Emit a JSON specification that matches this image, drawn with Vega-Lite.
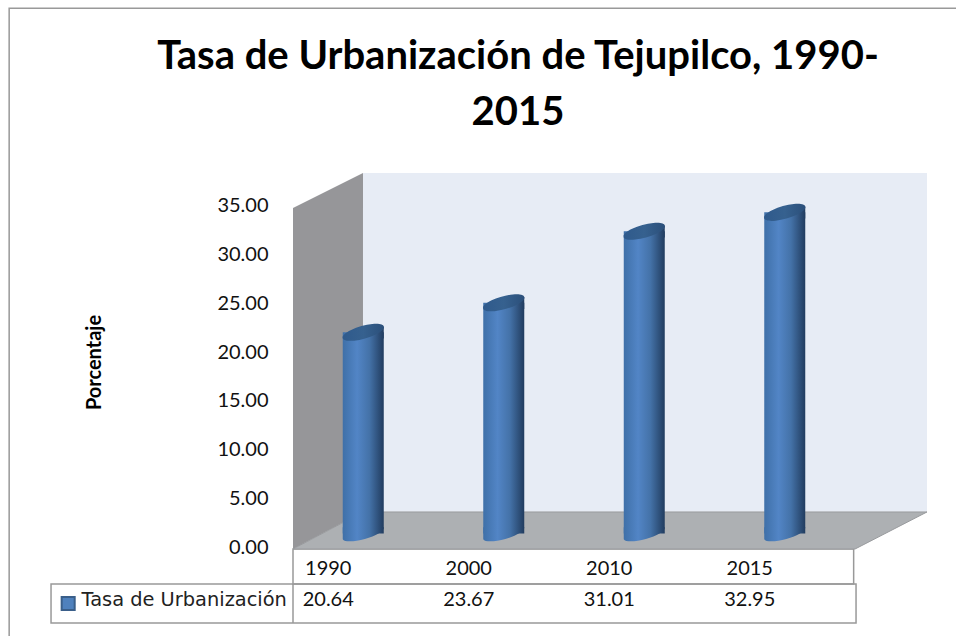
{
"$schema":"https://vega.github.io/schema/vega-lite/v6.json",
"width":634,"height":376,
"autosize":{"type":"none"},
"padding":{"left":293,"top":173,"right":29,"bottom":87},
"background":"#ffffff",
"view":{"stroke":null},
"title":{"text":["Tasa de Urbanización de Tejupilco, 1990-","2015"],"font":"Lato","fontSize":40,"fontWeight":"bold","color":"#000000","anchor":"middle","frame":"group","dx":-92,"offset":-126,"lineHeight":56},
"datasets":{
"rows":[
{"year":"1990","value":20.64},
{"year":"2000","value":23.67},
{"year":"2010","value":31.01},
{"year":"2015","value":32.95}
],
"floor":[
{"x":0,"top":0,"bottom":0},
{"x":0.498,"top":3.8,"bottom":0},
{"x":4.0,"top":3.8,"bottom":0},
{"x":4.512,"top":3.8,"bottom":3.8}
],
"side":[
{"x":0,"top":35,"bottom":0},
{"x":0.498,"top":38.59,"bottom":3.8}
],
"back":[
{"x":0.498,"top":38.59,"bottom":3.8},
{"x":4.512,"top":38.59,"bottom":3.8}
],
"grid":[
{"x":-2.02,"x2":4.9,"y":-10,"y2":55.5},
{"x":-1.722,"x2":4.007,"y":-7.6,"y2":-3.59},
{"x":0,"x2":3.99,"y":-3.59,"y2":0},
{"x":0,"x2":0,"y":-7.6,"y2":-3.59}
]
},
"resolve":{"scale":{"x":"independent","y":"independent"}},
"layer":[
{"data":{"name":"grid"},"mark":{"type":"rect","fill":"transparent","stroke":"#999999","strokeWidth":1.5,"clip":false},
"encoding":{"x":{"field":"x","type":"quantitative","scale":{"domain":[0,4.512],"nice":false,"zero":false},"axis":null},"x2":{"field":"x2"},
"y":{"field":"y","type":"quantitative","scale":{"domain":[0,38.59],"nice":false,"zero":false},"axis":null},"y2":{"field":"y2"}}},
{"data":{"name":"back"},"mark":{"type":"area","fill":"#e7ecf5"},
"encoding":{"x":{"field":"x","type":"quantitative","scale":{"domain":[0,4.512],"nice":false,"zero":false},"axis":null},
"y":{"field":"top","type":"quantitative","scale":{"domain":[0,38.59],"nice":false,"zero":false},
"axis":{"orient":"left","values":[0,5,10,15,20,25,30,35],"format":".2f","grid":false,"domain":false,"ticks":false,"labelFont":"Lato","labelFontSize":20,"labelColor":"#111111","labelPadding":25,"labelOffset":-2,"title":"Porcentaje","titleFont":"Lato","titleFontWeight":"bold","titleFontSize":20,"titleColor":"#000000","titleX":-189,"titleY":189,"titleAngle":270}},
"y2":{"field":"bottom"}}},
{"data":{"name":"side"},"mark":{"type":"area","fill":"#969699"},
"encoding":{"x":{"field":"x","type":"quantitative","scale":{"domain":[0,4.512],"nice":false,"zero":false},"axis":null},
"y":{"field":"top","type":"quantitative","scale":{"domain":[0,38.59],"nice":false,"zero":false},"axis":null},"y2":{"field":"bottom"}}},
{"data":{"name":"floor"},"mark":{"type":"area","fill":"#adb0b3","stroke":"#999b9e","strokeWidth":1},
"encoding":{"x":{"field":"x","type":"quantitative","scale":{"domain":[0,4.512],"nice":false,"zero":false},"axis":null},
"y":{"field":"top","type":"quantitative","scale":{"domain":[0,38.59],"nice":false,"zero":false},"axis":null},"y2":{"field":"bottom"}}},

{"data":{"name":"rows"},"mark":{"type":"point","filled":true,"opacity":1,"size":1681,"shape":"M-1,-0.3 L1,-0.3 L1,-0.28 A1.04,0.3 -15.6 0 1 -1,0.28 Z",
"color":{"gradient":"linear","x1":0,"x2":1,"y1":0,"y2":0,"stops":[{"offset":0,"color":"#3f70a8"},{"offset":0.35,"color":"#5285c6"},{"offset":0.65,"color":"#4472a8"},{"offset":1,"color":"#213c5f"}]}},
"encoding":{"x":{"field":"year","type":"ordinal","scale":{"type":"band","domain":["1990","2000","2010","2015"],"range":[0,562],"paddingInner":0,"paddingOuter":0},"axis":null},
"y":{"datum":0,"type":"quantitative","scale":{"domain":[-1.6,36.99],"nice":false,"zero":false},"axis":null}}},
{"data":{"name":"rows"},"mark":{"type":"bar","size":41,"color":{"gradient":"linear","x1":0,"x2":1,"y1":0,"y2":0,"stops":[{"offset":0,"color":"#3f70a8"},{"offset":0.35,"color":"#5285c6"},{"offset":0.65,"color":"#4472a8"},{"offset":1,"color":"#213c5f"}]}},
"encoding":{"x":{"field":"year","type":"ordinal","scale":{"type":"band","domain":["1990","2000","2010","2015"],"range":[0,562],"paddingInner":0,"paddingOuter":0},"axis":null},
"y":{"field":"value","type":"quantitative","scale":{"domain":[-1.6,36.99],"nice":false,"zero":false},"axis":null},"y2":{"datum":0}}},
{"data":{"name":"rows"},"mark":{"type":"point","filled":true,"opacity":1,"size":1681,"shape":"M-1,0.28 L1,-0.28 L1,0.3 L-1,0.3 Z",
"color":{"gradient":"linear","x1":0,"x2":1,"y1":0,"y2":0,"stops":[{"offset":0,"color":"#3f70a8"},{"offset":0.35,"color":"#5285c6"},{"offset":0.65,"color":"#4472a8"},{"offset":1,"color":"#213c5f"}]}},
"encoding":{"x":{"field":"year","type":"ordinal","scale":{"type":"band","domain":["1990","2000","2010","2015"],"range":[0,562],"paddingInner":0,"paddingOuter":0},"axis":null},
"y":{"field":"value","type":"quantitative","scale":{"domain":[-1.6,36.99],"nice":false,"zero":false},"axis":null}}},
{"data":{"name":"rows"},"mark":{"type":"point","filled":true,"opacity":1,"size":1681,"shape":"M-1,0.28 A1.04,0.3 -15.6 1 1 1,-0.28 A1.04,0.3 -15.6 1 1 -1,0.28 Z",
"color":{"gradient":"linear","x1":0,"x2":1,"y1":0,"y2":0,"stops":[{"offset":0,"color":"#2f5a8c"},{"offset":0.5,"color":"#36618f"},{"offset":1,"color":"#2b4f7a"}]}},
"encoding":{"x":{"field":"year","type":"ordinal","scale":{"type":"band","domain":["1990","2000","2010","2015"],"range":[0,562],"paddingInner":0,"paddingOuter":0},"axis":null},
"y":{"field":"value","type":"quantitative","scale":{"domain":[-1.6,36.99],"nice":false,"zero":false},"axis":null}}},

{"data":{"name":"rows"},"mark":{"type":"text","font":"Lato","fontSize":20,"color":"#111111","dx":-35,"baseline":"middle"},
"encoding":{"x":{"field":"year","type":"ordinal","scale":{"type":"band","domain":["1990","2000","2010","2015"],"range":[0,562],"paddingInner":0,"paddingOuter":0},"axis":null},
"y":{"datum":-2.05,"type":"quantitative","scale":{"domain":[0,38.59],"nice":false,"zero":false},"axis":null},
"text":{"field":"year"}}},
{"data":{"name":"rows"},"mark":{"type":"text","font":"Lato","fontSize":20,"color":"#111111","dx":-35,"baseline":"middle"},
"encoding":{"x":{"field":"year","type":"ordinal","scale":{"type":"band","domain":["1990","2000","2010","2015"],"range":[0,562],"paddingInner":0,"paddingOuter":0},"axis":null},
"y":{"datum":-5.25,"type":"quantitative","scale":{"domain":[0,38.59],"nice":false,"zero":false},"axis":null},
"text":{"field":"value","format":".2f"}}},
{"data":{"values":[{"series":"Tasa de Urbanización"}]},"mark":{"type":"square","size":170,"color":"#4f81bd","stroke":"#3a5f8a","opacity":1},
"encoding":{"x":{"datum":-1.6,"type":"quantitative","scale":{"domain":[0,4.512],"nice":false,"zero":false},"axis":null},
"y":{"datum":-5.6,"type":"quantitative","scale":{"domain":[0,38.59],"nice":false,"zero":false},"axis":null}}},
{"data":{"values":[{"series":"Tasa de Urbanización"}]},"mark":{"type":"text","font":"DejaVu Sans","fontSize":19.4,"color":"#222222","align":"left","baseline":"middle"},
"encoding":{"x":{"datum":-1.505,"type":"quantitative","scale":{"domain":[0,4.512],"nice":false,"zero":false},"axis":null},
"y":{"datum":-5.25,"type":"quantitative","scale":{"domain":[0,38.59],"nice":false,"zero":false},"axis":null},
"text":{"field":"series"}}}
]
}
